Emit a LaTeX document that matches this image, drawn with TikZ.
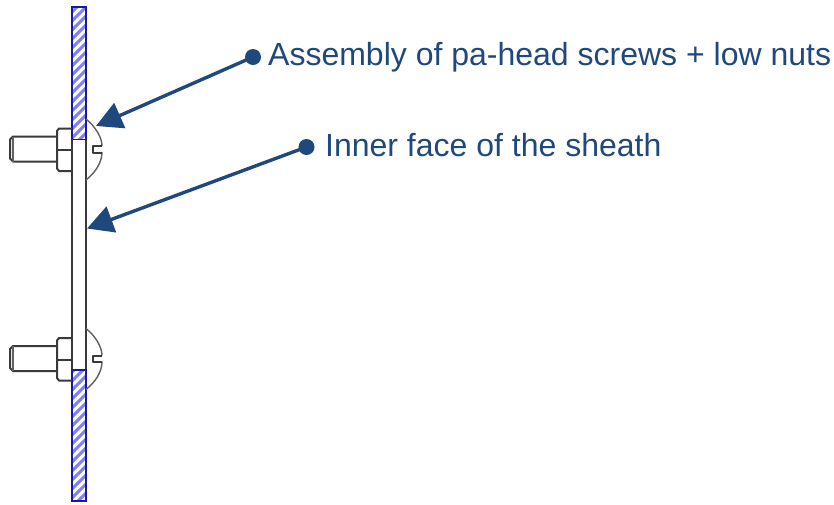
\documentclass[tikz,border=0pt]{standalone}
\usepackage{fontspec}
\setmainfont{Liberation Sans}
\usetikzlibrary{arrows.meta}
\definecolor{navy}{HTML}{1F497D}
\definecolor{hatchblue}{HTML}{8080F0}
\definecolor{edge}{HTML}{3A3A3A}
\tikzset{
  part/.style={draw=edge,line width=2pt,line join=round},
  thin part/.style={draw=edge!80,line width=1.4pt},
  plate/.style={draw=blue!60!edge,line width=1.8pt},
  dot/.style={circle,fill=navy,inner sep=0pt,minimum size=16pt},
  callout/.style={draw=navy,line width=3.4pt,-{Triangle[length=26pt,width=27pt]},shorten >=0pt},
  label text/.style={text=navy,font=\fontsize{32pt}{34pt}\selectfont,anchor=base west,inner sep=0pt}
}
\newcommand{\hatchplate}[2]{%
  \begin{scope}
    \clip (72,#1) rectangle (86,#2);
    \foreach \k in {-20,-11,...,520}
      \draw[hatchblue,line width=3pt] (66,\k+20) -- (92,\k-6);
  \end{scope}
  \draw[plate] (72,#1) rectangle (86,#2);
}
\newcommand{\boltshape}[1]{%
  \begin{scope}[yshift=#1pt]
    % shaft and chamfer
    \draw[part] (57,136.5) -- (13,136.5) -- (10,139.5) -- (10,158.5) -- (13,161.5) -- (57,161.5);
    \draw[thin part] (13,136.5) -- (13,161.5);
    % nut
    \draw[part] (72,128.5) -- (59,128.5) -- (57,131) -- (57,168.5) -- (59,171) -- (72,171);
    \draw[part] (57,150) -- (72,150);
    % head
    \draw[thin part] (86,119) .. controls (96,127) and (102,138) .. (102,146);
    \draw[thin part] (102,152) .. controls (102,162) and (96,172) .. (86,180);
    % slot
    \draw[part] (102,146) -- (93,146) -- (93,152.5) -- (102,152.5);
  \end{scope}
}
\begin{document}
\begin{tikzpicture}[x=1pt,y=-1pt]
  \useasboundingbox (0,0) rectangle (834,504);
  \fill[white] (0,0) rectangle (834,504);
  % sheath
  \draw[part] (72,128) -- (72,380);
  \draw[part] (86,119) -- (86,390);
  % plates
  \hatchplate{7}{139.5}
  \hatchplate{370}{501}
  % bolts
  \boltshape{0}
  \boltshape{-209.5}
  % callouts
  \node[dot] (d1) at (253,57) {};
  \node[dot] (d2) at (306.5,147) {};
  \coordinate (t1) at (96,126);
  \coordinate (t2) at (87,228.5);
  \draw[callout] (d1.center) -- (t1);
  \draw[callout] (d2.center) -- (t2);
  \node[label text] (l1) at (268,65) {Assembly of pa-head screws + low nuts};
  \node[label text] (l2) at (325,156) {Inner face of the sheath};
\end{tikzpicture}
\end{document}
